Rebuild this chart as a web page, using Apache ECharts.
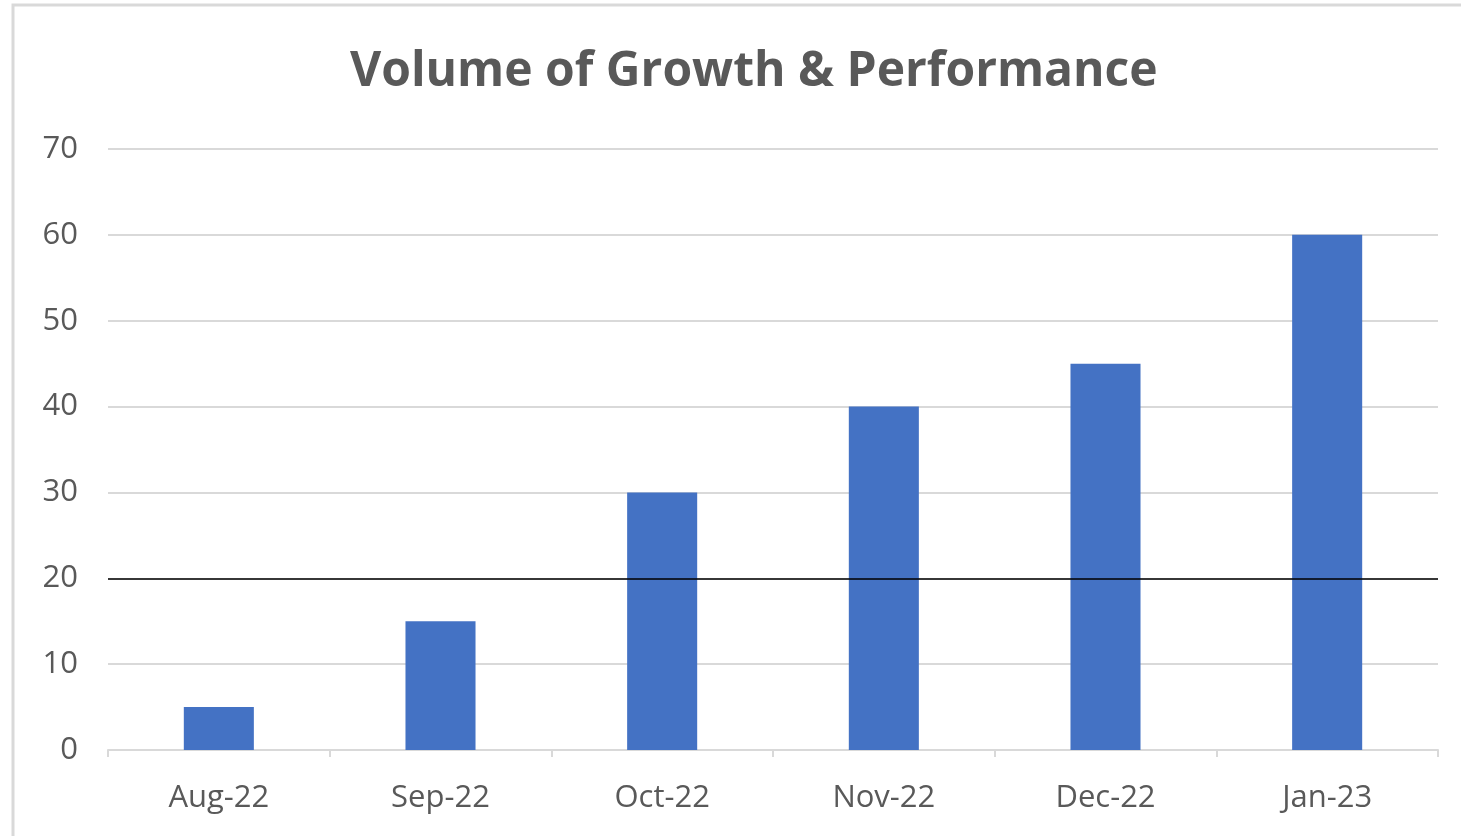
<!DOCTYPE html>
<html>
<head>
<meta charset="utf-8">
<script src="https://cdn.jsdelivr.net/npm/echarts@6/dist/echarts.min.js"></script>
<style>
  html, body { margin: 0; padding: 0; background: #fff; }
  #chart { width: 1461px; height: 836px; }
</style>
</head>
<body>
<div id="chart"></div>
<script>
const months = ['Aug-22', 'Sep-22', 'Oct-22', 'Nov-22', 'Dec-22', 'Jan-23']
const volumes = [5, 15, 30, 40, 45, 60]
const targetLine = 20

const chart = echarts.init(document.getElementById('chart'))
chart.setOption({
  animation: false,
  backgroundColor: '#fff',
  title: {
    text: 'Volume of Growth & Performance',
    left: 345,
    top: 43,
    textStyle: {
      fontFamily: 'Open Sans',
      fontWeight: 'bold',
      fontSize: 48,
      color: '#595959'
    }
  },
  graphic: [{
    type: 'polyline',
    shape: { points: [[13, 840], [13, 5], [1465, 5]] },
    style: { stroke: '#d9d9d9', lineWidth: 3, fill: null }
  }],
  grid: { left: 108, right: 23, top: 149, bottom: 86 },
  xAxis: {
    type: 'category',
    data: months,
    axisLine: { lineStyle: { color: '#d9d9d9', width: 2 } },
    axisTick: { show: true, length: 7, lineStyle: { color: '#d9d9d9', width: 2 } },
    axisLabel: { color: '#595959', fontSize: 31, fontFamily: 'Open Sans', margin: 33 }
  },
  yAxis: {
    type: 'value',
    min: 0,
    max: 70,
    interval: 10,
    axisLine: { show: false },
    axisTick: { show: false },
    splitLine: { lineStyle: { color: '#d9d9d9', width: 2 } },
    axisLabel: { color: '#595959', fontSize: 31, fontFamily: 'Open Sans', margin: 30 }
  },
  series: [{
    type: 'bar',
    data: volumes,
    barWidth: '31.6%',
    itemStyle: { color: '#4472C4' },
    markLine: {
      silent: true,
      symbol: 'none',
      label: { show: false },
      lineStyle: { color: '#000', width: 1.5, type: 'solid' },
      data: [{ yAxis: targetLine }]
    }
  }]
})
</script>
</body>
</html>
